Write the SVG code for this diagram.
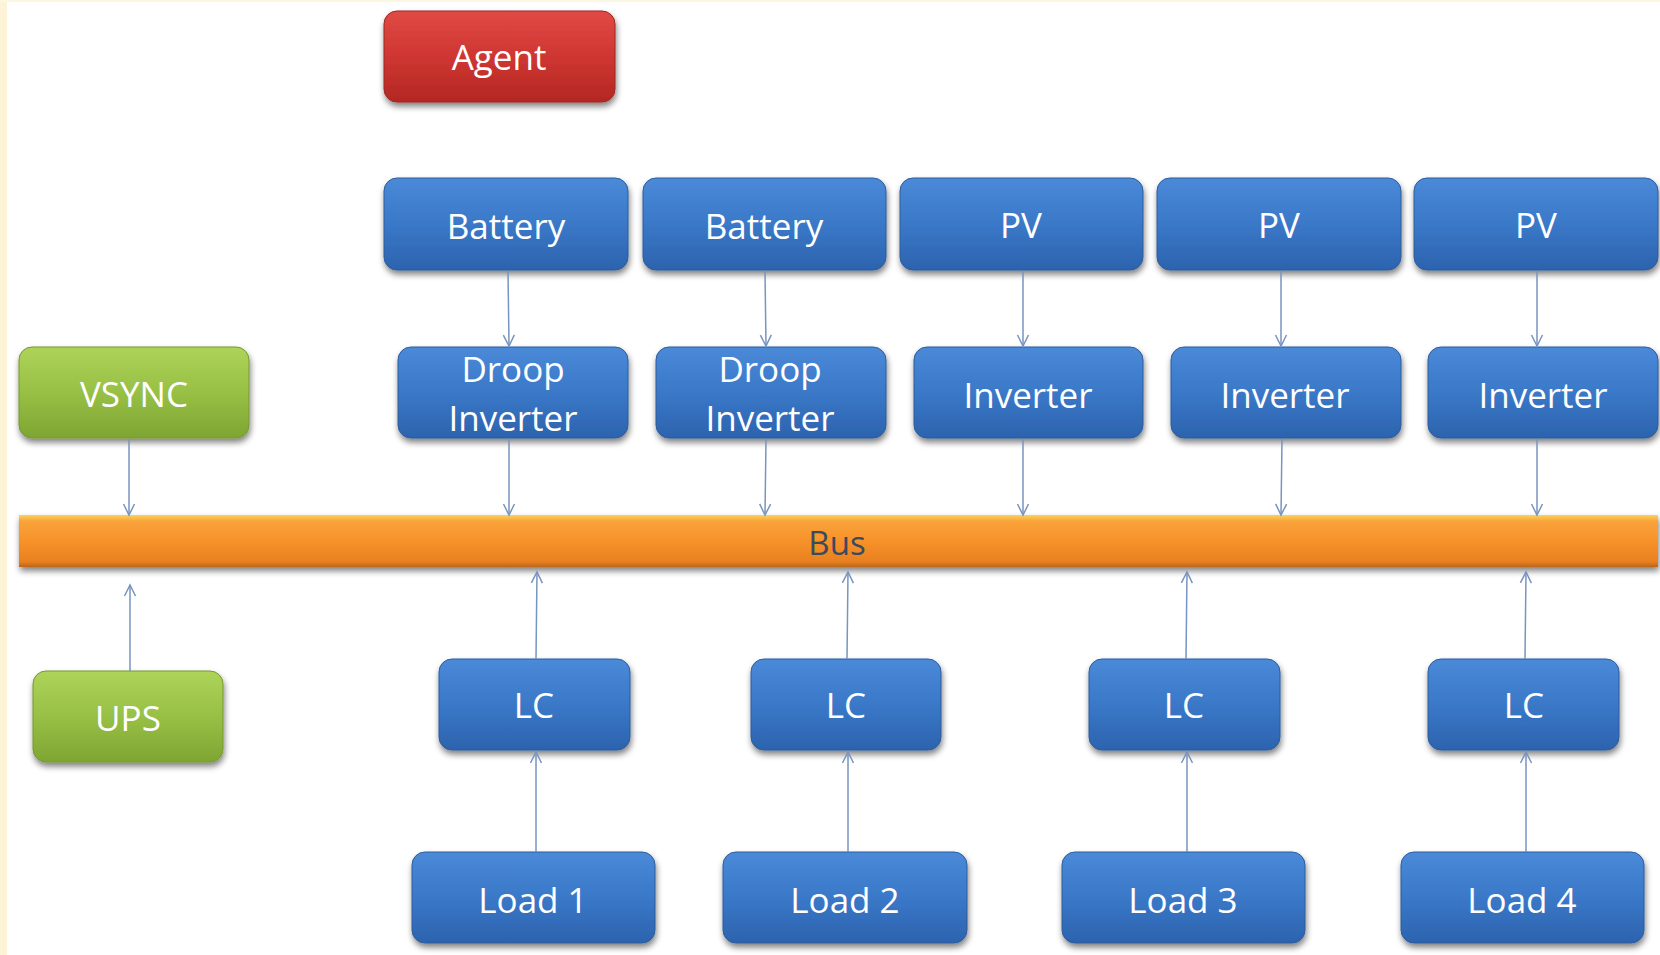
<svg xmlns="http://www.w3.org/2000/svg" width="1660" height="955" viewBox="0 0 1660 955">
<defs>
<linearGradient id="gBlue" x1="0" y1="0" x2="0" y2="1">
<stop offset="0" stop-color="#4a8ad8"/>
<stop offset="0.5" stop-color="#3a78c8"/>
<stop offset="1" stop-color="#2c63ae"/>
</linearGradient>
<linearGradient id="gRed" x1="0" y1="0" x2="0" y2="1">
<stop offset="0" stop-color="#e04a45"/>
<stop offset="0.5" stop-color="#cf3632"/>
<stop offset="1" stop-color="#b32723"/>
</linearGradient>
<linearGradient id="gGreen" x1="0" y1="0" x2="0" y2="1">
<stop offset="0" stop-color="#aed35a"/>
<stop offset="0.5" stop-color="#98c045"/>
<stop offset="1" stop-color="#7ea532"/>
</linearGradient>
<linearGradient id="gBus" x1="0" y1="0" x2="0" y2="1">
<stop offset="0" stop-color="#fcd25a"/>
<stop offset="0.12" stop-color="#f9a33a"/>
<stop offset="0.5" stop-color="#f7922a"/>
<stop offset="0.9" stop-color="#e8801f"/>
<stop offset="1" stop-color="#b9661c"/>
</linearGradient>
<filter id="sh" x="-10%" y="-20%" width="120%" height="150%">
<feGaussianBlur in="SourceAlpha" stdDeviation="3"/>
<feOffset dx="1" dy="4" result="b"/>
<feComponentTransfer><feFuncA type="linear" slope="0.5"/></feComponentTransfer>
<feMerge><feMergeNode/><feMergeNode in="SourceGraphic"/></feMerge>
</filter>
<marker id="arr" viewBox="-13 -7 15 14" markerWidth="15" markerHeight="14" refX="0" refY="0" orient="auto" markerUnits="userSpaceOnUse">
<path d="M-11,-5.5 L0,0 L-11,5.5" fill="none" stroke="#7894c0" stroke-width="1.5"/>
</marker>
</defs>
<style>
.blue{fill:url(#gBlue);stroke:#2d5c9c;stroke-width:1;filter:url(#sh)}
.red{fill:url(#gRed);stroke:#a02622;stroke-width:1;filter:url(#sh)}
.green{fill:url(#gGreen);stroke:#76982f;stroke-width:1;filter:url(#sh)}
.t{font-family:"Open Sans","Noto Sans","Liberation Sans",sans-serif;font-size:35px;fill:#ffffff;text-anchor:middle}
.c{fill:none;stroke:#7894c0;stroke-width:1.5;marker-end:url(#arr)}
</style>
<rect x="0" y="0" width="1660" height="955" fill="#ffffff"/>
<rect x="0" y="0" width="7" height="955" fill="#fdf3d6"/>
<rect x="0" y="0" width="1660" height="2" fill="#fdf6e0"/>

<g id="agent"><rect class="red" x="384" y="11" width="231" height="91" rx="13"/><text class="t" x="499" y="70">Agent</text></g>

<g id="battery1"><rect class="blue" x="384" y="178" width="244" height="92" rx="13"/><text class="t" x="506" y="239">Battery</text></g>
<g id="battery2"><rect class="blue" x="643" y="178" width="243" height="92" rx="13"/><text class="t" x="764" y="239">Battery</text></g>
<g id="pv1"><rect class="blue" x="900" y="178" width="243" height="92" rx="13"/><text class="t" x="1021" y="238">PV</text></g>
<g id="pv2"><rect class="blue" x="1157" y="178" width="244" height="92" rx="13"/><text class="t" x="1279" y="238">PV</text></g>
<g id="pv3"><rect class="blue" x="1414" y="178" width="244" height="92" rx="13"/><text class="t" x="1536" y="238">PV</text></g>

<g id="vsync"><rect class="green" x="19" y="347" width="230" height="91" rx="13"/><text class="t" x="134" y="407">VSYNC</text></g>
<g id="droop1"><rect class="blue" x="398" y="347" width="230" height="91" rx="13"/><text class="t" x="513" y="382">Droop</text><text class="t" x="513" y="431">Inverter</text></g>
<g id="droop2"><rect class="blue" x="656" y="347" width="230" height="91" rx="13"/><text class="t" x="770" y="382">Droop</text><text class="t" x="770" y="431">Inverter</text></g>
<g id="inv1"><rect class="blue" x="914" y="347" width="229" height="91" rx="13"/><text class="t" x="1028" y="408">Inverter</text></g>
<g id="inv2"><rect class="blue" x="1171" y="347" width="230" height="91" rx="13"/><text class="t" x="1285" y="408">Inverter</text></g>
<g id="inv3"><rect class="blue" x="1428" y="347" width="230" height="91" rx="13"/><text class="t" x="1543" y="408">Inverter</text></g>

<g id="bus"><rect x="19" y="515" width="1639" height="52" fill="url(#gBus)" filter="url(#sh)"/><text x="837" y="555" font-family="'Open Sans','Noto Sans','Liberation Sans',sans-serif" font-size="33" fill="#3d4a5e" text-anchor="middle">Bus</text></g>

<g id="ups"><rect class="green" x="33" y="671" width="190" height="91" rx="13"/><text class="t" x="128" y="731">UPS</text></g>

<g id="lc1"><rect class="blue" x="439" y="659" width="191" height="91" rx="13"/><text class="t" x="534" y="718">LC</text></g>
<g id="lc2"><rect class="blue" x="751" y="659" width="190" height="91" rx="13"/><text class="t" x="846" y="718">LC</text></g>
<g id="lc3"><rect class="blue" x="1089" y="659" width="191" height="91" rx="13"/><text class="t" x="1184" y="718">LC</text></g>
<g id="lc4"><rect class="blue" x="1428" y="659" width="191" height="91" rx="13"/><text class="t" x="1524" y="718">LC</text></g>

<g id="load1"><rect class="blue" x="412" y="852" width="243" height="91" rx="13"/><text class="t" x="533" y="913">Load 1</text></g>
<g id="load2"><rect class="blue" x="723" y="852" width="244" height="91" rx="13"/><text class="t" x="845" y="913">Load 2</text></g>
<g id="load3"><rect class="blue" x="1062" y="852" width="243" height="91" rx="13"/><text class="t" x="1183" y="913">Load 3</text></g>
<g id="load4"><rect class="blue" x="1401" y="852" width="243" height="91" rx="13"/><text class="t" x="1522" y="913">Load 4</text></g>

<g id="connectors">
<path class="c" d="M508,271 L509,346"/>
<path class="c" d="M765,271 L766,346"/>
<path class="c" d="M1023,271 L1023,346"/>
<path class="c" d="M1281,271 L1281,346"/>
<path class="c" d="M1537,271 L1537,346"/>
<path class="c" d="M129,439 L129,515"/>
<path class="c" d="M509,439 L509,515"/>
<path class="c" d="M766,439 L765,515"/>
<path class="c" d="M1023,439 L1023,515"/>
<path class="c" d="M1282,439 L1281,515"/>
<path class="c" d="M1537,439 L1537,515"/>
<path class="c" d="M130,671 L130,585"/>
<path class="c" d="M536,659 L537,572"/>
<path class="c" d="M847,659 L848,572"/>
<path class="c" d="M1186,659 L1187,572"/>
<path class="c" d="M1525,659 L1526,572"/>
<path class="c" d="M536,852 L536,752"/>
<path class="c" d="M848,852 L848,752"/>
<path class="c" d="M1187,852 L1187,752"/>
<path class="c" d="M1526,852 L1526,752"/>
</g>
</svg>
